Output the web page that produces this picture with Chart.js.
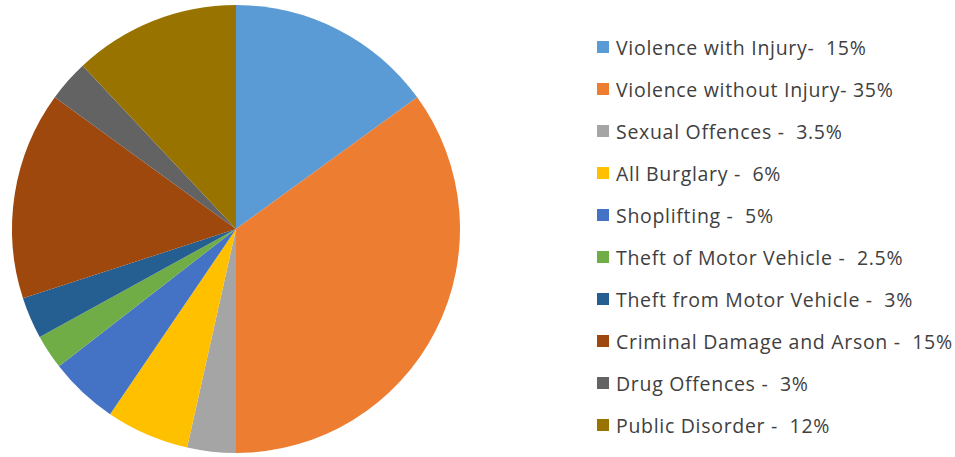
<!DOCTYPE html>
<html>
<head>
<meta charset="utf-8">
<script src="https://cdn.jsdelivr.net/npm/chart.js@4"></script>
<style>
    body { margin: 0; background: #fff; }
    #wrap { position: relative; width: 955px; height: 457px; }
    #pieBox { position: absolute; left: 0; top: 0; width: 472px; height: 457px; }
    #legend { position: absolute; left: 597px; top: 26px; font-family: "Open Sans", "Noto Sans", sans-serif; font-size: 19.5px; letter-spacing: 0.7px; color: #404040; }
    #legend div { height: 42px; display: flex; align-items: center; white-space: pre; }
    #legend span.box { width: 12px; height: 12px; margin-right: 7px; flex: none; }
</style>
</head>
<body>
<div id="wrap">
    <div id="pieBox"><canvas id="pieChart"></canvas></div>
    <div id="legend"></div>
</div>
<script>
const categories = [
    'Violence with Injury-  15%',
    'Violence without Injury- 35%',
    'Sexual Offences -  3.5%',
    'All Burglary -  6%',
    'Shoplifting -  5%',
    'Theft of Motor Vehicle -  2.5%',
    'Theft from Motor Vehicle -  3%',
    'Criminal Damage and Arson -  15%',
    'Drug Offences -  3%',
    'Public Disorder -  12%'
];
const shares = [15, 35, 3.5, 6, 5, 2.5, 3, 15, 3, 12];
const colors = ['#5B9BD5', '#ED7D31', '#A5A5A5', '#FFC000', '#4472C4', '#70AD47', '#255E91', '#9E480E', '#636363', '#997300'];

function buildLegend(chart) {
    const el = document.getElementById('legend');
    el.innerHTML = chart.data.labels.map((label, i) => `
        <div><span class="box" style="background:${chart.data.datasets[0].backgroundColor[i]}"></span>${label}</div>
    `).join('');
}

const pieChart = new Chart(document.getElementById('pieChart').getContext('2d'), {
    type: 'pie',
    data: {
        labels: categories,
        datasets: [{
            data: shares,
            backgroundColor: colors,
            borderWidth: 0
        }]
    },
    options: {
        responsive: true,
        maintainAspectRatio: false,
        animation: false,
        layout: { padding: { top: 5, bottom: 4 } },
        plugins: {
            legend: { display: false },
            tooltip: { enabled: false }
        }
    }
});
buildLegend(pieChart);
</script>
</body>
</html>
